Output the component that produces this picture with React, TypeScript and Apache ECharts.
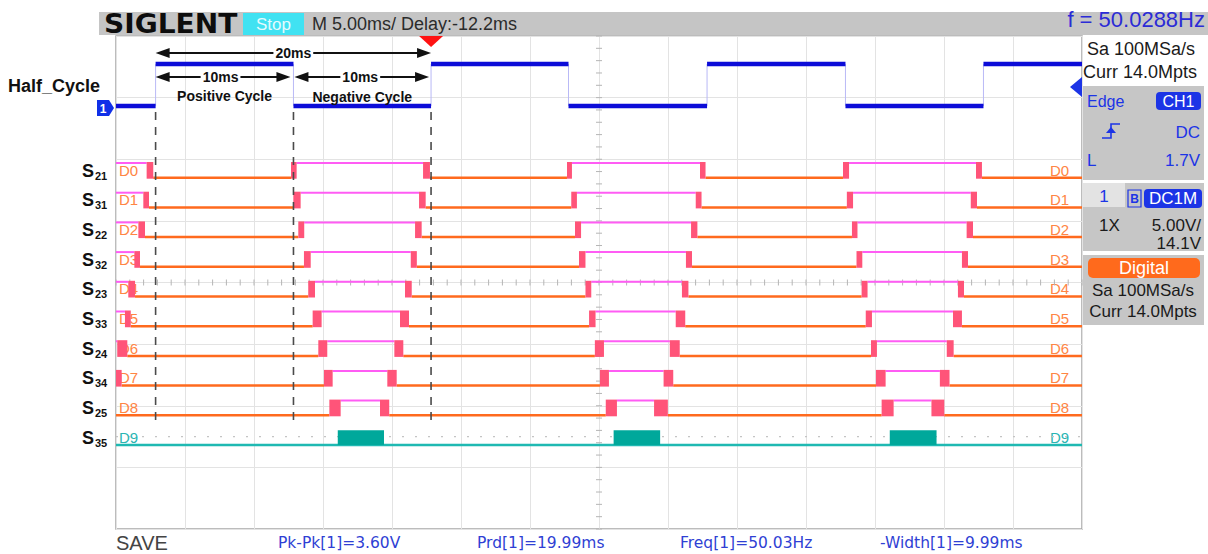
import React, { useEffect, useRef } from "react";
import * as echarts from "echarts";

// ---------------- data ----------------
const timeSpanMs = 70; // 14 divisions
const timePerDivMs = 5;
const verticalDivs = 8;
const voltPerDiv = 5;

const ch1EdgesMs = [2.87, 12.86, 22.83, 32.79, 42.83, 52.86, 62.86];
const ch1LowV = 0;
const ch1HighV = 3.4;
const triggerMs = 22.83;
const triggerLevelV = 1.7;

const channelNames = ["D0", "D1", "D2", "D3", "D4", "D5", "D6", "D7", "D8", "D9"];
const switchSubscripts = ["21", "31", "22", "32", "23", "33", "24", "34", "25", "35"];
const channelStartsHigh = [true, true, true, true, true, true, true, true, false, false];

// transition regions [start, end] in ms
const d0Edges = [[2.22, 2.7], [12.68, 13.09], [22.25, 22.75], [32.68, 33.04], [42.32, 42.72], [52.68, 53.12], [62.32, 62.75]];
const d1Edges = [[1.98, 2.39], [12.85, 13.38], [21.96, 22.44], [32.99, 33.4], [42.01, 42.43], [52.96, 53.41], [61.94, 62.39]];
const d2Edges = [[1.62, 2.1], [13.21, 13.64], [21.67, 22.15], [33.26, 33.7], [41.67, 42.13], [53.33, 53.73], [61.64, 62.1]];
const d3Edges = [[1.33, 1.74], [13.62, 14.11], [21.36, 21.8], [33.55, 34.02], [41.3, 41.74], [53.66, 54.08], [61.3, 61.74]];
const d4Edges = [[0.89, 1.38], [13.93, 14.42], [20.94, 21.43], [34.02, 34.44], [41.01, 41.48], [54.03, 54.46], [61.01, 61.45]];
const d5Edges = [[0.65, 1.07], [14.25, 14.9], [20.58, 21.23], [34.28, 34.75], [40.56, 41.25], [54.33, 54.78], [60.65, 61.3]];
const d6Edges = [[0.09, 0.82], [14.66, 15.31], [20.17, 20.82], [34.7, 35.36], [40.13, 40.85], [54.71, 55.14], [60.2, 60.7]];
const d7Edges = [[0.0, 0.41], [15.07, 15.7], [19.66, 20.34], [35.07, 35.72], [39.68, 40.38], [55.07, 55.77], [59.7, 60.4]];
const d8Edges = [[15.46, 16.28], [19.13, 19.8], [35.49, 36.3], [38.99, 39.99], [55.48, 56.35], [59.09, 60.02]];
const d9Bursts = [[16.07, 19.42], [36.06, 39.43], [56.07, 59.46]];

const digitalEdges = [d0Edges, d1Edges, d2Edges, d3Edges, d4Edges, d5Edges, d6Edges, d7Edges, d8Edges];

const measurementTexts = ["Pk-Pk[1]=3.60V", "Prd[1]=19.99ms", "Freq[1]=50.03Hz", "-Width[1]=9.99ms"];
const headerTimebase = "M 5.00ms/ Delay:-12.2ms";
const headerFreq = "f = 50.0288Hz";

// ---------------- layout ----------------
const PLOT = { left: 116, top: 36, width: 966, height: 493 };
const CH1_ZERO_PX = 106;
const ROW0_LOW_PX = 177.7;
const ROW_PITCH_PX = 29.7;
const LEVEL_PX = 14.7;
const FONT = '"Liberation Sans", Arial, sans-serif';

const divOf = (y: number) => ((PLOT.top + PLOT.height - y) / PLOT.height) * verticalDivs;
const ch1Div = (v: number) => divOf(CH1_ZERO_PX) + v / voltPerDiv;

const MAGENTA = "#ff5cf4";
const ORANGE = "#ff6a1e";
const PINK = "#ff5479";
const TEAL_LINE = "#1fb9b2";
const TEAL_FILL = "#00a89b";
const BLUE = "#0c0cd8";
const PANEL_BLUE = "#1c34e6";

function seg(api: any, t0: number, t1: number, v: number, stroke: string, lw: number) {
  const p0 = api.coord([t0, v]);
  const p1 = api.coord([t1, v]);
  return { type: "line", shape: { x1: p0[0], y1: p0[1], x2: p1[0], y2: p1[1] }, style: { stroke, lineWidth: lw } };
}

const renderDigital = (_p: any, api: any) => {
  const i = api.value(0);
  const lowV = divOf(ROW0_LOW_PX + i * ROW_PITCH_PX);
  const highV = divOf(ROW0_LOW_PX + i * ROW_PITCH_PX - LEVEL_PX);
  const children: any[] = [];
  if (i === 9) {
    children.push(seg(api, 0, timeSpanMs, lowV, TEAL_LINE, 2.5));
    d9Bursts.forEach(([a, b]) => {
      const pa = api.coord([a, highV]);
      const pb = api.coord([b, lowV]);
      children.push({ type: "rect", shape: { x: pa[0], y: pa[1], width: pb[0] - pa[0], height: pb[1] - pa[1] }, style: { fill: TEAL_FILL } });
    });
    return { type: "group", children };
  }
  let high = channelStartsHigh[i];
  let t = 0;
  const edges = digitalEdges[i];
  const blocks: any[] = [];
  edges.forEach(([a, b]) => {
    if (a > t) children.push(high ? seg(api, t, a, highV, MAGENTA, 2) : seg(api, t, a, lowV, ORANGE, 2.5));
    const pa = api.coord([a, highV]);
    const pb = api.coord([b, lowV]);
    blocks.push({ type: "rect", shape: { x: pa[0], y: pa[1] - 1, width: Math.max(pb[0] - pa[0], 2), height: pb[1] - pa[1] + 2 }, style: { fill: PINK } });
    high = !high;
    t = b;
  });
  children.push(high ? seg(api, t, timeSpanMs, highV, MAGENTA, 2) : seg(api, t, timeSpanMs, lowV, ORANGE, 2.5));
  return { type: "group", children: children.concat(blocks) };
};

const renderCh1 = (_p: any, api: any) => {
  const children: any[] = [];
  const yLow = api.coord([0, ch1Div(ch1LowV)])[1];
  const yHigh = api.coord([0, ch1Div(ch1HighV)])[1];
  const thin: any[] = [];
  let high = false;
  let t = 0;
  const bounds = [...ch1EdgesMs, timeSpanMs];
  bounds.forEach((tb, k) => {
    const x0 = api.coord([t, 0])[0];
    const x1 = api.coord([tb, 0])[0];
    const y = high ? yHigh : yLow;
    children.push({ type: "line", shape: { x1: x0, y1: y, x2: x1, y2: y }, style: { stroke: BLUE, lineWidth: 4.5 } });
    if (k < ch1EdgesMs.length) thin.push({ type: "line", shape: { x1: x1, y1: yLow, x2: x1, y2: yHigh }, style: { stroke: "#b9b9f6", lineWidth: 1 } });
    high = !high;
    t = tb;
  });
  return { type: "group", children: thin.concat(children) };
};

const renderTicks = (_p: any, api: any) => {
  const children: any[] = [];
  const midT = timeSpanMs / 2;
  const midV = verticalDivs / 2;
  const c = api.coord([midT, midV]);
  const st = { stroke: "#b5b5b5", lineWidth: 1 };
  for (let k = 0; k <= (timeSpanMs / timePerDivMs) * 5; k++) {
    const x = api.coord([(k * timePerDivMs) / 5, midV])[0];
    children.push({ type: "line", shape: { x1: x, y1: c[1] - 3, x2: x, y2: c[1] + 3 }, style: st });
  }
  for (let k = 0; k <= verticalDivs * 5; k++) {
    const y = api.coord([midT, k / 5])[1];
    children.push({ type: "line", shape: { x1: c[0] - 3, y1: y, x2: c[0] + 3, y2: y }, style: st });
  }
  const yd = api.coord([0, 1.5])[1];
  const x0 = api.coord([0, 0])[0];
  const x1 = api.coord([timeSpanMs, 0])[0];
  children.push({ type: "line", shape: { x1: x0, y1: yd, x2: x1, y2: yd }, style: { stroke: "#c4c4c4", lineWidth: 1.2, lineDash: [2, 11] } });
  return { type: "group", children };
};

function arrow(xa: number, xb: number, y: number) {
  const L = 14, h = 5;
  return [
    { type: "line", shape: { x1: xa + 4, y1: y, x2: xb - 4, y2: y }, style: { stroke: "#111", lineWidth: 2 } },
    { type: "polygon", shape: { points: [[xa, y], [xa + L, y - h], [xa + L, y + h]] }, style: { fill: "#111" } },
    { type: "polygon", shape: { points: [[xb, y], [xb - L, y - h], [xb - L, y + h]] }, style: { fill: "#111" } },
  ];
}

function ctext(text: string, x: number, y: number, size: number, bg?: string) {
  return {
    type: "text",
    style: {
      text, x, y, align: "center", verticalAlign: "middle",
      fontFamily: FONT, fontSize: size, fontWeight: "bold", fill: "#111",
      backgroundColor: bg, padding: bg ? [0, 2] : 0,
    },
  };
}

const renderAnnotations = (_p: any, api: any) => {
  const xs = [0, 1, 2].map((k) => api.coord([ch1EdgesMs[k], 0])[0]);
  const xTrig = api.coord([triggerMs, 0])[0];
  const children: any[] = [];
  xs.forEach((x) => {
    children.push({ type: "line", shape: { x1: x, y1: 112, x2: x, y2: 421 }, style: { stroke: "#4a4a4a", lineWidth: 1.6, lineDash: [8, 7] } });
  });
  children.push(...arrow(xs[0], xs[2], 53));
  children.push(...arrow(xs[0], xs[1] - 3, 77));
  children.push(...arrow(xs[1] + 1, xs[2] - 2, 77));
  children.push(ctext("20ms", (xs[0] + xs[2]) / 2, 53, 14, "#ffffff"));
  children.push(ctext("10ms", (xs[0] + xs[1]) / 2 - 4, 77, 14, "#ffffff"));
  children.push(ctext("10ms", (xs[1] + xs[2]) / 2 - 2, 77, 14, "#ffffff"));
  children.push(ctext("Positive Cycle", (xs[0] + xs[1]) / 2, 96, 14));
  children.push(ctext("Negative Cycle", (xs[1] + xs[2]) / 2, 97, 14));
  children.push({ type: "polygon", shape: { points: [[xTrig - 12, 36], [xTrig + 12, 36], [xTrig, 47]] }, style: { fill: "#ff1212" } });
  const pl = api.coord([timeSpanMs, ch1Div(triggerLevelV)]);
  children.push({ type: "polygon", shape: { points: [[pl[0] - 12, pl[1] + 2], [pl[0], pl[1] - 8], [pl[0], pl[1] + 12]] }, style: { fill: PANEL_BLUE } });
  return { type: "group", children };
};

// ---------------- static screen furniture ----------------
function t(text: string, x: number, y: number, o: any = {}) {
  return {
    type: "text", x, y, z: o.z ?? 10, scaleX: o.scaleX ?? 1,
    style: {
      text, fill: o.fill ?? "#1a1a1a", fontFamily: o.family ?? FONT, fontSize: o.size ?? 17,
      fontWeight: o.weight ?? "normal", align: o.align ?? "left", verticalAlign: "middle",
    },
  };
}
function r(x: number, y: number, w: number, h: number, fill: string, o: any = {}) {
  return { type: "rect", z: o.z ?? 5, shape: { x, y, width: w, height: h, r: o.r ?? 0 }, style: { fill, stroke: o.stroke, lineWidth: o.lw ?? 0 } };
}

const graphics: any[] = [
  r(99, 12, 1109, 23, "#c5c5c5"),
  t("SIGLENT", 104, 24, { size: 26, weight: 900, family: '"DejaVu Sans", sans-serif', fill: "#0d0d0d", scaleX: 1.08 }),
  r(243, 13, 61, 22, "#40e2f2"),
  t("Stop", 273.5, 24, { size: 17, fill: "#e4fbff", align: "center" }),
  t(headerTimebase, 312, 24, { size: 18, fill: "#2b2b2b" }),
  t(headerFreq, 1205, 19, { size: 22, fill: "#2b2bd6", align: "right" }),
  t("Sa 100MSa/s", 1087, 49, { size: 18 }),
  t("Curr 14.0Mpts", 1083, 72, { size: 18 }),
  // trigger box
  r(1083, 86, 121, 94, "#c6c6c6"),
  t("Edge", 1087, 101, { size: 16, fill: PANEL_BLUE }),
  r(1156, 92, 45, 18, PANEL_BLUE, { r: 4 }),
  t("CH1", 1178.5, 101, { size: 16, fill: "#ffffff", align: "center", z: 11 }),
  { type: "polyline", z: 10, shape: { points: [[1102, 138], [1111, 138], [1111, 124], [1120, 124]] }, style: { stroke: PANEL_BLUE, lineWidth: 1.6, fill: "none" } },
  { type: "polygon", z: 10, shape: { points: [[1106, 133], [1111, 127], [1116, 133]] }, style: { fill: PANEL_BLUE } },
  t("DC", 1200, 132, { size: 17, fill: PANEL_BLUE, align: "right" }),
  t("L", 1087, 160, { size: 17, fill: PANEL_BLUE }),
  t("1.7V", 1200, 160, { size: 17, fill: PANEL_BLUE, align: "right" }),
  // channel box
  r(1083, 183, 121, 68, "#c6c6c6"),
  r(1083, 183, 42, 24, "#e3e3e3"),
  t("1", 1104, 196, { size: 17, fill: PANEL_BLUE, align: "center" }),
  r(1128, 190, 13, 17, "none", { stroke: PANEL_BLUE, lw: 1.2, z: 10 }),
  t("B", 1134.5, 199, { size: 12, weight: "bold", fill: PANEL_BLUE, align: "center" }),
  r(1144, 189, 58, 19, PANEL_BLUE, { r: 4 }),
  t("DC1M", 1173, 198.5, { size: 17, fill: "#ffffff", align: "center", z: 11 }),
  t("1X", 1099, 225, { size: 17 }),
  t("5.00V/", 1201, 225, { size: 17, align: "right" }),
  t("14.1V", 1201, 243, { size: 17, align: "right" }),
  // digital box
  r(1083, 255, 121, 70, "#c6c6c6"),
  r(1088, 258, 112, 20, "#ff6a1c", { r: 5 }),
  t("Digital", 1144, 268, { size: 18, fill: "#ffffff", align: "center", z: 11 }),
  t("Sa 100MSa/s", 1143, 290, { size: 17, align: "center" }),
  t("Curr 14.0Mpts", 1143, 311, { size: 17, align: "center" }),
  // left labels
  t("Half_Cycle", 8, 86, { size: 18, weight: "bold", fill: "#111" }),
  { type: "polygon", z: 10, shape: { points: [[97, 100], [109, 100], [114, 108], [109, 116], [97, 116]] }, style: { fill: "#1030e8" } },
  t("1", 103, 108.5, { size: 12, weight: "bold", fill: "#ffffff", align: "center", z: 11 }),
  // bottom
  t("SAVE", 116, 543, { size: 20, fill: "#444444" }),
];

const measX = [278, 477, 680, 880];
measurementTexts.forEach((m, k) => {
  graphics.push(t(m, measX[k], 543, { size: 15.5, family: '"DejaVu Sans", sans-serif', fill: "#2f3fd4" }));
});

switchSubscripts.forEach((s, i) => {
  const y = 170.5 + i * ROW_PITCH_PX;
  graphics.push(t("S", 82, y, { size: 18, weight: "bold", fill: "#111" }));
  graphics.push(t(s, 95, y + 5, { size: 11, weight: "bold", fill: "#111" }));
});

channelNames.forEach((n, i) => {
  const y = 170 + i * ROW_PITCH_PX;
  const fill = i === 9 ? "#2ab5b3" : "#ff8544";
  graphics.push(t(n, 119, y, { size: 15, fill, z: 1 }));
  graphics.push(t(n, 1050, y, { size: 15, fill, z: 1 }));
});

const axisCommon = {
  type: "value" as const,
  axisLine: { show: false },
  axisTick: { show: false },
  axisLabel: { show: false },
  splitLine: { show: true, lineStyle: { color: "#e3e3e3", width: 1 } },
};

const option: any = {
  animation: false,
  backgroundColor: "#ffffff",
  grid: { ...PLOT, show: true, borderColor: "#a6a6a6", borderWidth: 1.5, backgroundColor: "transparent" },
  xAxis: { ...axisCommon, min: 0, max: timeSpanMs, interval: timePerDivMs },
  yAxis: { ...axisCommon, min: 0, max: verticalDivs, interval: 1 },
  series: [
    { type: "custom", name: "ticks", renderItem: renderTicks, data: [[0, 0]], silent: true, z: 1 },
    { type: "custom", name: "Half_Cycle", renderItem: renderCh1, data: [[0, 0]], silent: true, z: 3 },
    { type: "custom", name: "digital", renderItem: renderDigital, data: channelNames.map((_, i) => [i, 0]), silent: true, z: 3 },
    { type: "custom", name: "annotations", renderItem: renderAnnotations, data: [[0, 0]], silent: true, z: 4 },
  ],
  graphic: { elements: graphics },
};

export default function App() {
  const ref = useRef<HTMLDivElement>(null);
  useEffect(() => {
    const chart = echarts.init(ref.current!, null, { renderer: "svg" });
    chart.setOption(option);
    return () => chart.dispose();
  }, []);
  return <div ref={ref} style={{ position: "fixed", left: 0, top: 0, width: 1208, height: 554, background: "#fff" }} />;
}
